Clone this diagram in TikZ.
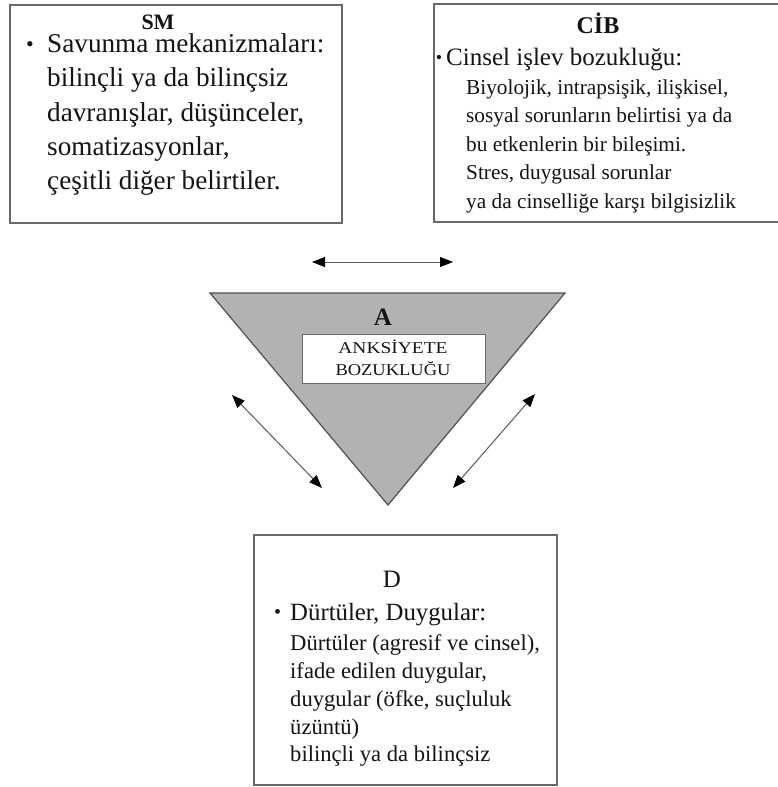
\documentclass[tikz,border=0pt]{standalone}
\usepackage{fontspec}
\setmainfont{Liberation Serif}
\usetikzlibrary{arrows.meta}
\definecolor{boxline}{RGB}{105,105,105}
\definecolor{trifill}{RGB}{178,178,178}
\definecolor{triline}{RGB}{80,80,80}
\definecolor{arrline}{RGB}{90,90,90}
\definecolor{txtcol}{RGB}{20,20,20}
\begin{document}
\begin{tikzpicture}[x=1pt,y=-1pt,
  box/.style={draw=boxline, line width=1.6pt, fill=white, anchor=north west, inner sep=0pt, outer sep=0pt},
  innerbox/.style={draw=boxline, line width=1pt, fill=white, anchor=north west, inner sep=0pt},
  ln/.style={anchor=base west, inner sep=0pt, text=txtcol},
  ttl/.style={anchor=base, inner sep=0pt, text=txtcol},
  biarrow/.style={{Triangle[length=13pt,width=10pt,color=black]}-{Triangle[length=13pt,width=10pt,color=black]}, line width=1pt, draw=arrline},
  tri/.style={draw=triline, line width=1.2pt, fill=trifill, line join=miter}
]
\useasboundingbox (0,0) rectangle (777,787);

% boxes
\node[box, minimum width=332pt, minimum height=218pt] (sm) at (10,5) {};
\node[box, minimum width=346pt, minimum height=218pt] (cib) at (434,4) {};
\node[box, minimum width=303pt, minimum height=250pt] (d) at (254,535) {};

% triangle
\coordinate (tl) at (210,293);
\coordinate (tr) at (565,293);
\coordinate (tb) at (388,505);
\draw[tri] (tl) -- (tr) -- (tb) -- cycle;
\node[innerbox, minimum width=183pt, minimum height=49pt] (ab) at (302,334) {};
\node[ttl, font=\fontsize{25}{25}\selectfont\bfseries] (atitle) at (383,325) {A};
\node[ttl, font=\fontsize{16.5}{16.5}\selectfont] (a1) at (393,353) {\scalebox{1.18}[1]{ANKSİYETE}};
\node[ttl, font=\fontsize{16.5}{16.5}\selectfont] (a2) at (393,375) {\scalebox{1.12}[1]{BOZUKLUĞU}};

% SM text
\node[ttl, font=\fontsize{22}{22}\selectfont\bfseries] (smt) at (158,29.5) {SM};
\node[ln, font=\fontsize{22}{22}\selectfont] (smb) at (26,51) {•};
\foreach \t/\yy [count=\i] in {{Savunma mekanizmaları:}/52, {bilinçli ya da bilinçsiz}/86, {davranışlar, düşünceler,}/121, {somatizasyonlar,}/155, {çeşitli diğer belirtiler.}/189}
  \node[ln, font=\fontsize{27.2}{27.2}\selectfont] (sm\i) at (47,\yy) {\t};

% CIB text
\node[ttl, font=\fontsize{24}{24}\selectfont\bfseries] (cibt) at (598,33) {CİB};
\node[ttl, font=\fontsize{18}{18}\selectfont] (cibb) at (439,63) {•};
\node[ln, font=\fontsize{25}{25}\selectfont] (cib1) at (446,65) {Cinsel işlev bozukluğu:};
\foreach \t/\yy [count=\i] in {{Biyolojik, intrapsişik, ilişkisel,}/94, {sosyal sorunların belirtisi ya da}/122.5, {bu etkenlerin bir bileşimi.}/151, {Stres, duygusal sorunlar}/179.5, {ya da cinselliğe karşı bilgisizlik}/208}
  \node[ln, font=\fontsize{21.3}{21.3}\selectfont] (cibl\i) at (466,\yy) {\t};

% D text
\node[ttl, font=\fontsize{25}{25}\selectfont] (dt) at (392,587) {D};
\node[ln, font=\fontsize{20}{20}\selectfont] (db) at (274,618) {•};
\node[ln, font=\fontsize{24.8}{24.8}\selectfont] (d1) at (290,620) {Dürtüler, Duygular:};
\foreach \t/\yy [count=\i] in {{Dürtüler (agresif ve cinsel),}/650, {ifade edilen duygular,}/678, {duygular (öfke, suçluluk}/706, {üzüntü)}/734, {bilinçli ya da bilinçsiz}/761}
  \node[ln, font=\fontsize{22.6}{22.6}\selectfont] (dl\i) at (290,\yy) {\t};

% arrows
\coordinate (h1) at (312,262);
\coordinate (h2) at (453,262);
\coordinate (l1) at (232,395);
\coordinate (l2) at (322,488);
\coordinate (r1) at (535,394);
\coordinate (r2) at (453,488);
\draw[biarrow] (h1) -- (h2);
\draw[biarrow] (l1) -- (l2);
\draw[biarrow] (r1) -- (r2);
\end{tikzpicture}
\end{document}
